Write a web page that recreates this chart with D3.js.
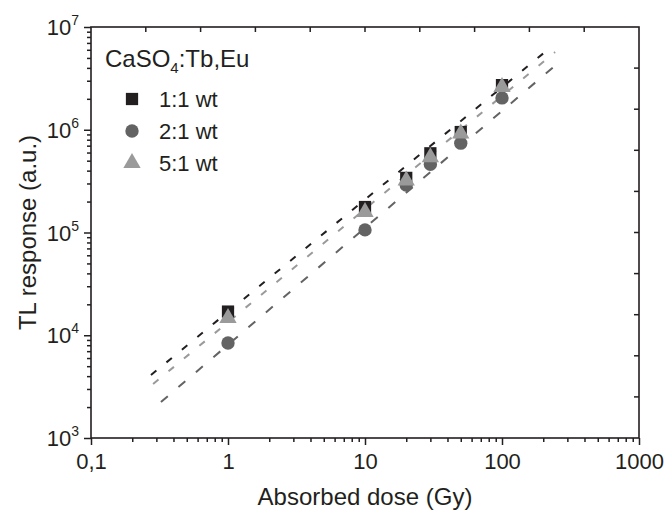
<!DOCTYPE html>
<html>
<head>
<meta charset="utf-8">
<script src="https://cdn.jsdelivr.net/npm/d3@7"></script>
<style>
  body { margin: 0; background: #fff; }
  text { font-family: "Liberation Sans", Arial, sans-serif; fill: #231f20; }
</style>
</head>
<body>
<div id="viz"></div>
<script>
// doses (Gy)
const doses = [1, 10, 20, 30, 50, 100];
// TL response for each ratio
const resp11 = [1.7e4, 1.77e5, 3.4e5, 5.9e5, 9.5e5, 2.72e6];
const resp21 = [8.4e3, 1.06e5, 2.9e5, 4.6e5, 7.4e5, 2.04e6];
const resp51 = [1.47e4, 1.58e5, 3.2e5, 5.4e5, 9.2e5, 2.6e6];
// dashed fit lines, end points
const fit11X = [0.274, 232], fit11Y = [4.1e3, 6.5e6];
const fit21X = [0.324, 279], fit21Y = [2.24e3, 4.9e6];
const fit51X = [0.284, 244], fit51Y = [3.35e3, 5.7e6];
const xTicks = [0.1, 1, 10, 100, 1000];
const xTickLabels = ["0,1", "1", "10", "100", "1000"];
const yTicks = [1e3, 1e4, 1e5, 1e6, 1e7];
const legendLabels = ["1:1 wt", "2:1 wt", "5:1 wt"];

const width = 668, height = 514;
const margin = {top: 27, right: 29, bottom: 76, left: 91};
const ink = "#231f20";

const svg = d3.select("#viz").append("svg")
    .attr("width", width)
    .attr("height", height);

const x = d3.scaleLog().domain([0.1, 1000]).range([margin.left, width - margin.right]);
const y = d3.scaleLog().domain([1e3, 1e7]).range([height - margin.bottom, margin.top]);

// minor ticks for the log axes
let xMinor = [], yMinor = [];
[0.1, 1, 10, 100].forEach(d => { for (let k = 2; k <= 9; k++) xMinor.push(d * k); });
[1e3, 1e4, 1e5, 1e6].forEach(d => { for (let k = 2; k <= 9; k++) yMinor.push(d * k); });

const bottom = svg.append("g")
    .attr("transform", `translate(0,${height - margin.bottom})`);
bottom.call(d3.axisBottom(x).tickValues(xTicks).tickSize(7).tickFormat((d, i) => xTickLabels[i]));
bottom.append("g").call(d3.axisBottom(x).tickValues(xMinor).tickSize(4).tickFormat(""));
bottom.selectAll(".domain").remove();
bottom.selectAll("line").attr("stroke", ink).attr("stroke-width", 1.5);
bottom.selectAll("text").attr("font-size", 22).attr("dy", "0.95em").attr("fill", ink);

const left = svg.append("g")
    .attr("transform", `translate(${margin.left},0)`);
left.call(d3.axisLeft(y).tickValues(yTicks).tickSize(7).tickFormat(""));
left.append("g").call(d3.axisLeft(y).tickValues(yMinor).tickSize(4).tickFormat(""));
left.selectAll(".domain").remove();
left.selectAll("line").attr("stroke", ink).attr("stroke-width", 1.5);

// y tick labels as 10 with exponent
const yl = svg.append("g").selectAll("text")
    .data(yTicks)
    .join("text")
    .attr("x", margin.left - 12)
    .attr("y", d => y(d) + 8)
    .attr("text-anchor", "end")
    .attr("font-size", 22);
yl.append("tspan").text("10");
yl.append("tspan").attr("dy", -10).attr("font-size", 14).text(d => Math.round(Math.log10(d)));

// top and right axes: evenly spaced inward ticks
const x0 = margin.left, x1 = width - margin.right;
const y0 = margin.top, y1 = height - margin.bottom;
const topTicks = d3.range(1, 10).map(i => x0 + (x1 - x0) * i / 10);
const rightTicks = d3.range(1, 10).map(i => y1 - (y1 - y0) * i / 10);
svg.append("g").selectAll("line").data(topTicks).join("line")
    .attr("x1", d => d).attr("x2", d => d)
    .attr("y1", y0).attr("y2", y0 + 5)
    .attr("stroke", ink).attr("stroke-width", 1.5);
svg.append("g").selectAll("line").data(rightTicks).join("line")
    .attr("x1", x1).attr("x2", x1 - 5)
    .attr("y1", d => d).attr("y2", d => d)
    .attr("stroke", ink).attr("stroke-width", 1.5);

// frame
svg.append("rect")
    .attr("x", x0).attr("y", y0)
    .attr("width", x1 - x0).attr("height", y1 - y0)
    .attr("fill", "none").attr("stroke", ink).attr("stroke-width", 1.6);

// fit lines
const fits = [
  {xs: fit11X, ys: fit11Y, color: "#231f20", dash: "7,13"},
  {xs: fit51X, ys: fit51Y, color: "#9a9a9a", dash: "7,13"},
  {xs: fit21X, ys: fit21Y, color: "#636363", dash: "9,14"}
];
fits.forEach(f => {
  svg.append("line")
      .attr("x1", x(f.xs[0])).attr("y1", y(f.ys[0]))
      .attr("x2", x(f.xs[1])).attr("y2", y(f.ys[1]))
      .attr("stroke", f.color)
      .attr("stroke-width", 2)
      .attr("stroke-dasharray", f.dash);
});

const sq = d3.symbol().type(d3.symbolSquare).size(150);
const ci = d3.symbol().type(d3.symbolCircle).size(140);
const tri = d3.symbol().type(d3.symbolTriangle).size(130);

// 1:1 squares
svg.append("g").selectAll("path").data(doses).join("path")
    .attr("d", sq)
    .attr("transform", (d, i) => `translate(${x(d)},${y(resp11[i])})`)
    .attr("fill", "#231f20");
// 2:1 circles
svg.append("g").selectAll("path").data(doses).join("path")
    .attr("d", ci)
    .attr("transform", (d, i) => `translate(${x(d)},${y(resp21[i])})`)
    .attr("fill", "#636363");
// 5:1 triangles
svg.append("g").selectAll("path").data(doses).join("path")
    .attr("d", tri)
    .attr("transform", (d, i) => `translate(${x(d)},${y(resp51[i])})`)
    .attr("fill", "#9a9a9a");

// legend
const lt = svg.append("text")
    .attr("x", 105).attr("y", 67)
    .attr("font-size", 24);
lt.append("tspan").text("CaSO");
lt.append("tspan").attr("font-size", 15).attr("dy", 6).text("4");
lt.append("tspan").attr("dy", -6).text(":Tb,Eu");

const legSyms = [
  {sym: sq, color: "#231f20"},
  {sym: ci, color: "#636363"},
  {sym: tri, color: "#9a9a9a"}
];
const leg = svg.append("g").selectAll("g").data(legendLabels).join("g")
    .attr("transform", (d, i) => `translate(132,${99 + i * 32})`);
leg.append("path")
    .attr("d", (d, i) => legSyms[i].sym())
    .attr("fill", (d, i) => legSyms[i].color);
leg.append("text")
    .attr("x", 27).attr("y", 8)
    .attr("font-size", 22)
    .text(d => d);

// axis titles
svg.append("text")
    .attr("x", (x0 + x1) / 2).attr("y", 505)
    .attr("text-anchor", "middle")
    .attr("font-size", 24)
    .text("Absorbed dose (Gy)");
svg.append("text")
    .attr("transform", `translate(36,${(y0 + y1) / 2}) rotate(-90)`)
    .attr("text-anchor", "middle")
    .attr("font-size", 24)
    .text("TL response (a.u.)");
</script>
</body>
</html>
